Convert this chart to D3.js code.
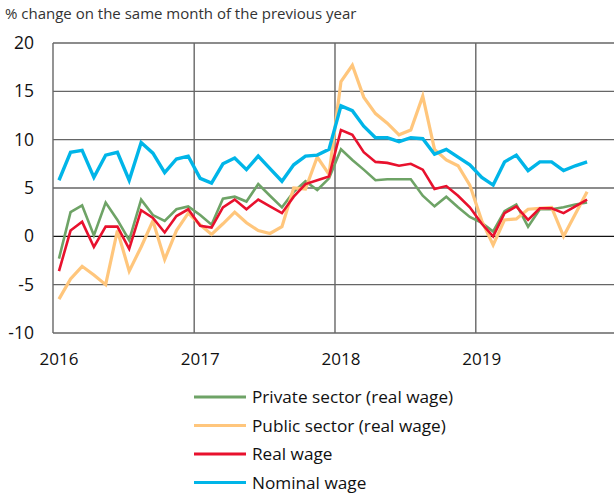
<!DOCTYPE html>
<html>
<head>
<meta charset="utf-8">
<script src="https://cdn.jsdelivr.net/npm/d3@7"></script>
<style>
  body { margin: 0; background: #fff; }
  svg { font-family: "Open Sans", Lato, sans-serif; }
</style>
</head>
<body>
<svg id="chart" width="614" height="496"></svg>
<script>
// monthly, Jan 2016 .. Oct 2019
const years = [2016, 2017, 2018, 2019];
const yTicks = [-10, -5, 0, 5, 10, 15, 20];

const privateSector = [
  -2.3, 2.5, 3.2, 0.1, 3.5, 1.7, -0.4, 3.8, 2.2, 1.6, 2.8, 3.1,
  2.2, 1.2, 3.9, 4.1, 3.6, 5.4, 4.2, 3.0, 4.6, 5.7, 4.8, 6.0,
  9.0, 7.9, 6.9, 5.8, 5.9, 5.9, 5.9, 4.2, 3.1, 4.1, 3.0, 2.0,
  1.4, 0.5, 2.6, 3.3, 1.0, 2.8, 2.8, 3.0, 3.3, 3.5
];
const publicSector = [
  -6.5, -4.4, -3.1, -4.0, -5.0, 0.6, -3.6, -1.1, 1.6, -2.4, 0.6, 2.4,
  1.2, 0.2, 1.3, 2.5, 1.4, 0.6, 0.3, 1.0, 5.0, 4.9, 8.2, 6.4,
  16.0, 17.7, 14.4, 12.7, 11.7, 10.5, 11.0, 14.5, 9.0, 7.9, 7.3, 5.3,
  1.6, -0.9, 1.7, 1.8, 2.8, 2.9, 3.0, 0.0, 2.3, 4.6
];
const realWage = [
  -3.6, 0.6, 1.5, -1.1, 1.0, 1.0, -1.3, 2.7, 1.9, 0.4, 2.1, 2.8,
  1.1, 0.9, 3.0, 3.8, 2.8, 3.8, 3.1, 2.4, 4.1, 5.4, 5.8, 6.2,
  11.0, 10.5, 8.7, 7.7, 7.6, 7.3, 7.5, 6.9, 4.9, 5.2, 4.2, 3.0,
  1.3, 0.0, 2.4, 3.1, 1.7, 2.9, 2.9, 2.4, 3.1, 3.8
];
const nominalWage = [
  5.8, 8.7, 8.9, 6.1, 8.4, 8.7, 5.8, 9.7, 8.6, 6.6, 8.0, 8.3,
  6.0, 5.5, 7.5, 8.1, 6.9, 8.3, 7.0, 5.7, 7.4, 8.3, 8.4, 9.0,
  13.5, 13.0, 11.4, 10.2, 10.2, 9.8, 10.2, 10.1, 8.5, 9.0, 8.2, 7.4,
  6.1, 5.3, 7.7, 8.4, 6.8, 7.7, 7.7, 6.8, 7.3, 7.7
];

const seriesNames = ["Private sector (real wage)", "Public sector (real wage)", "Real wage", "Nominal wage"];
const seriesColors = ["#6ea366", "#ffc67c", "#e8112d", "#00b5e8"];
const seriesWidths = [2.6, 3.2, 2.6, 3.4];
const seriesData = [privateSector, publicSector, realWage, nominalWage];

const svg = d3.select("#chart");
const plotLeft = 53, plotRight = 614, plotTop = 43, plotBottom = 333;

const x = d3.scaleTime()
  .domain([new Date(2016, 0, 1), new Date(2020, 0, 1)])
  .range([plotLeft, plotLeft + 4 * 140.9]);
const monthX = i => x(new Date(2016, i, 1)) + (x(new Date(2016, i + 1, 1)) - x(new Date(2016, i, 1))) / 2;
const y = d3.scaleLinear().domain([-10, 20]).range([plotBottom, plotTop]);

// title
svg.append("text")
  .attr("x", 5).attr("y", 19)
  .attr("font-size", 15).attr("fill", "#333")
  .text("% change on the same month of the previous year");

// horizontal grid
svg.append("g").selectAll("line")
  .data(yTicks)
  .join("line")
  .attr("x1", plotLeft).attr("x2", plotRight)
  .attr("y1", d => y(d)).attr("y2", d => y(d))
  .attr("stroke", d => d === 0 ? "#111" : "#666")
  .attr("stroke-width", 1.4);

// vertical year lines
svg.append("g").selectAll("line")
  .data(years)
  .join("line")
  .attr("x1", d => x(new Date(d, 0, 1))).attr("x2", d => x(new Date(d, 0, 1)))
  .attr("y1", plotTop).attr("y2", plotBottom)
  .attr("stroke", "#666")
  .attr("stroke-width", 1.4);

// y labels
svg.append("g").selectAll("text")
  .data(yTicks)
  .join("text")
  .attr("x", 34).attr("y", d => y(d))
  .attr("dy", "0.35em")
  .attr("text-anchor", "end")
  .attr("font-size", 17.5).attr("fill", "#111")
  .text(d => d);

// x labels
svg.append("g").selectAll("text")
  .data(years)
  .join("text")
  .attr("x", d => monthX((d - 2016) * 12))
  .attr("y", 365)
  .attr("text-anchor", "middle")
  .attr("font-size", 17).attr("fill", "#111")
  .text(d => d);

const line = d3.line()
  .x((d, i) => monthX(i))
  .y(d => y(d));

seriesData.forEach((s, k) => {
  svg.append("path")
    .datum(s)
    .attr("d", line)
    .attr("fill", "none")
    .attr("stroke", seriesColors[k])
    .attr("stroke-width", seriesWidths[k])
    .attr("stroke-linejoin", "miter");
});

// legend
const legend = svg.append("g").selectAll("g")
  .data(seriesNames)
  .join("g")
  .attr("transform", (d, i) => `translate(194, ${397 + i * 28.5})`);
legend.append("line")
  .attr("x1", 0).attr("x2", 52)
  .attr("stroke", (d, i) => seriesColors[i])
  .attr("stroke-width", 3);
legend.append("text")
  .attr("x", 58).attr("dy", "0.35em")
  .attr("font-size", 17.2).attr("fill", "#111")
  .text(d => d);
</script>
</body>
</html>
